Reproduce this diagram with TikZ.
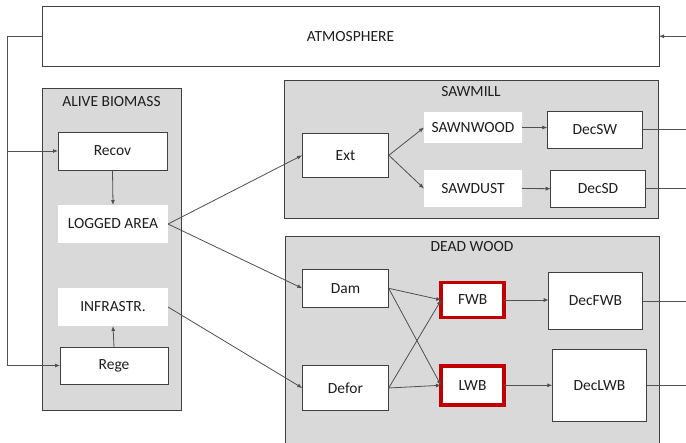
\documentclass[tikz,border=0pt]{standalone}
\usepackage{fontspec}
\setmainfont{Carlito}
\usetikzlibrary{arrows.meta}
\definecolor{boxline}{RGB}{64,64,64}
\definecolor{connc}{RGB}{80,80,80}
\definecolor{panelfill}{RGB}{217,217,217}
\definecolor{redline}{RGB}{192,0,0}
\definecolor{txt}{RGB}{30,30,30}
\tikzset{
  every node/.style={font=\fontsize{15.5}{18}\selectfont, text=txt, inner sep=0pt, outer sep=0pt},
  panel/.style={draw=boxline, fill=panelfill, line width=0.9pt},
  wbox/.style={draw=boxline, fill=white, line width=0.9pt},
  plain/.style={fill=white},
  redbox/.style={draw=redline, fill=white, line width=3.5pt},
  conn/.style={draw=connc, line width=0.8pt, -{Latex[length=5pt,width=4pt]}},
  line/.style={draw=connc, line width=0.8pt}
}
\begin{document}
\begin{tikzpicture}[x=1pt,y=-1pt]
\clip (0,0) rectangle (686,443);
\fill[white] (0,0) rectangle (686,443);
% containers
\node[wbox, minimum width=617pt, minimum height=60pt] (atm) at (350.5,36.3) {ATMOSPHERE};
\node[panel, minimum width=139pt, minimum height=322pt] (alive) at (111.5,249.5) {};
\node (alivet) at (111.5,102) {ALIVE BIOMASS};
\node[panel, minimum width=374pt, minimum height=138pt] (saw) at (471.5,149) {};
\node (sawt) at (471,92) {SAWMILL};
\node[panel, minimum width=374pt, minimum height=230pt] (dead) at (472,351) {};
\node (deadt) at (472,247) {DEAD WOOD};
% alive biomass
\node[wbox, minimum width=109pt, minimum height=38pt] (recov) at (112.5,151) {Recov};
\node[plain, minimum width=110pt, minimum height=38pt] (logged) at (113,224) {LOGGED AREA};
\node[plain, minimum width=110pt, minimum height=38pt] (infra) at (113,307) {INFRASTR.};
\node[wbox, minimum width=108pt, minimum height=37pt] (rege) at (114,365.5) {Rege};
% sawmill
\node[wbox, minimum width=86.7pt, minimum height=44pt] (ext) at (345.5,155.3) {Ext};
\node[plain, minimum width=98pt, minimum height=31pt] (sawn) at (473,127.5) {SAWNWOOD};
\node[plain, minimum width=98pt, minimum height=37pt] (sawd) at (473,188.5) {SAWDUST};
\node[wbox, minimum width=95pt, minimum height=36.7pt] (decsw) at (594.8,129.7) {DecSW};
\node[wbox, minimum width=94.6pt, minimum height=37.3pt] (decsd) at (598,188.7) {DecSD};
% dead wood
\node[wbox, minimum width=86.4pt, minimum height=38pt] (dam) at (345.5,288.3) {Dam};
\node[wbox, minimum width=86.4pt, minimum height=44.7pt] (defor) at (345.5,388) {Defor};
\node[redbox, minimum width=63pt, minimum height=35pt] (fwb) at (472.7,300) {FWB};
\node[redbox, minimum width=63pt, minimum height=39pt] (lwb) at (472.5,385.3) {LWB};
\node[wbox, minimum width=93.6pt, minimum height=56.6pt] (decfwb) at (595.5,301) {DecFWB};
\node[wbox, minimum width=94.4pt, minimum height=72pt] (declwb) at (599.5,385.3) {DecLWB};
% feedback coordinates
\coordinate (fbtop) at (7,36.3);
\coordinate (fbbot) at (7,365.5);
\coordinate (rin) at (686,36.3);
% connectors
\draw[conn] (atm.west) -- (fbtop) -- (fbbot) -- (rege.west);
\draw[conn] (fbtop |- recov.west) -- (recov.west);
\draw[conn] (rin) -- (atm.east);
\draw[conn] (recov.south) -- (logged.north);
\draw[conn] (rege.north) -- (infra.south);
\draw[conn] (logged.east) -- (ext.west);
\draw[conn] (logged.east) -- (dam.west);
\draw[conn] (infra.east) -- (defor.west);
\draw[conn] (ext.east) -- (sawn.west);
\draw[conn] (ext.east) -- (sawd.west);
\draw[conn] (sawn.east) -- (sawn.east -| decsw.west);
\draw[conn] (sawd.east) -- (decsd.west);
\draw[conn] (dam.east) -- (fwb.west);
\draw[conn] (dam.east) -- (lwb.west);
\draw[conn] (defor.east) -- (fwb.west);
\draw[conn] (defor.east) -- (lwb.west);
\draw[conn] (fwb.east) -- (decfwb.west |- fwb.east);
\draw[conn] (lwb.east) -- (declwb.west |- lwb.east);
\draw[line] (decsw.east) -- (decsw.east -| rin);
\draw[line] (decsd.east) -- (decsd.east -| rin);
\draw[line] (decfwb.east) -- (decfwb.east -| rin);
\draw[line] (declwb.east) -- (declwb.east -| rin);
\end{tikzpicture}
\end{document}
